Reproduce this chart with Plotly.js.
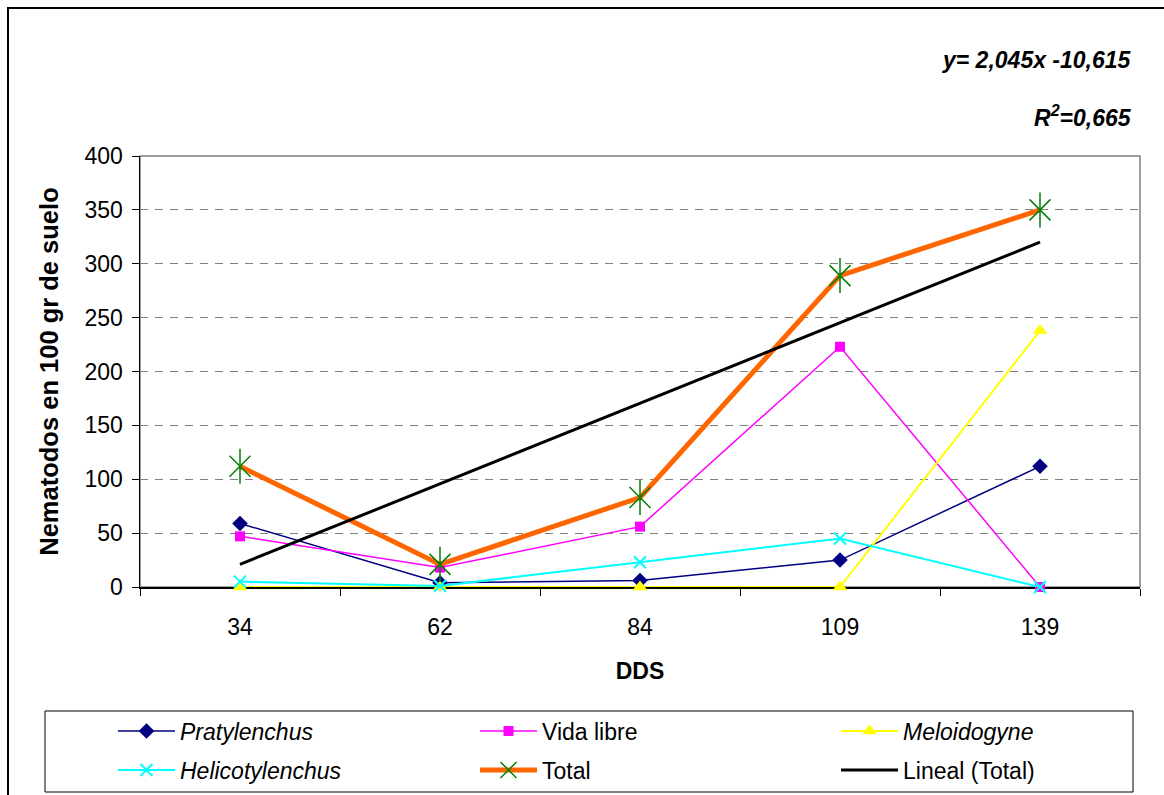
<!DOCTYPE html>
<html>
<head>
<meta charset="utf-8">
<script src="https://cdn.plot.ly/plotly-3.0.1.min.js"></script>
<style>
  html, body { margin: 0; padding: 0; background: #fff; overflow: hidden; }
  #frame { position: absolute; left: 7px; top: 7px; width: 1200px; height: 850px;
           border-top: 2px solid #000; border-left: 2px solid #000; }
  #chart { position: absolute; left: 0; top: 0; width: 1164px; height: 795px; }
</style>
</head>
<body>
<div id="frame"></div>
<div id="chart"></div>
<script>
const categories = ['34', '62', '84', '109', '139'];
const pratylenchus = [59, 4, 6, 25, 112];
const vidaLibre = [47, 18, 56, 223, 0];
const meloidogyne = [0, 0, 0, 0, 238];
const helicotylenchus = [5, 1, 23, 45, 0];
const total = [112, 21, 83, 289, 350];
const linealX = ['34', '139'];
const linealTotal = [21, 320];
const equationText = 'y= 2,045x -10,615';
const r2Text = 'R<sup>2</sup>=0,665';

const FONT = 'Liberation Sans, Arial, sans-serif';

const traces = [
  { name: '<i>Pratylenchus</i>', x: categories, y: pratylenchus, type: 'scatter', mode: 'lines+markers', cliponaxis: false,
    line: { color: '#000080', width: 1.5 }, marker: { symbol: 'diamond', size: 12, color: '#000080' }, legend: 'legend' },
  { name: 'Vida libre', x: categories, y: vidaLibre, type: 'scatter', mode: 'lines+markers', cliponaxis: false,
    line: { color: '#FF00FF', width: 1.5 }, marker: { symbol: 'square', size: 10, color: '#FF00FF' }, legend: 'legend2' },
  { name: '<i>Meloidogyne</i>', x: categories, y: meloidogyne, type: 'scatter', mode: 'lines+markers', cliponaxis: false,
    line: { color: '#FFFF00', width: 2 }, marker: { symbol: 'triangle-up', size: 13, color: '#FFFF00' }, legend: 'legend3' },
  { name: '<i>Helicotylenchus</i>', x: categories, y: helicotylenchus, type: 'scatter', mode: 'lines+markers', cliponaxis: false,
    line: { color: '#00FFFF', width: 2 }, marker: { symbol: 'x-thin', size: 12, color: '#00FFFF', line: { color: '#00FFFF', width: 2 } }, legend: 'legend4' },
  { name: 'Total', x: categories, y: total, type: 'scatter', mode: 'lines+markers', cliponaxis: false,
    line: { color: '#FF6600', width: 5 }, marker: { symbol: 'x-thin', size: 21, color: '#008000', line: { color: '#008000', width: 1.5 } }, legend: 'legend5' },
  { name: 'Total', x: categories, y: total, type: 'scatter', mode: 'markers', showlegend: false, hoverinfo: 'skip', cliponaxis: false,
    marker: { symbol: 'line-ns', size: 25, color: '#008000', line: { color: '#008000', width: 1.5 } } },
  { name: 'Lineal (Total)', x: linealX, y: linealTotal, type: 'scatter', mode: 'lines', cliponaxis: false,
    line: { color: '#000000', width: 3 }, legend: 'legend6' }
];

const L = 140, T = 156, W = 1000, H = 431;
function px(x) { return (x - L) / W; }
function py(y) { return (T + H - y) / H; }

function leg(xSym, yRow) {
  return {
    orientation: 'v', x: px(xSym), y: py(yRow), xanchor: 'left', yanchor: 'middle',
    itemwidth: 57, bgcolor: 'rgba(0,0,0,0)', borderwidth: 0,
    font: { family: FONT, size: 23 }, itemclick: false, itemdoubleclick: false
  };
}

const layout = {
  width: 1164, height: 795,
  margin: { l: L, r: 1164 - L - W, t: T, b: 795 - T - H, autoexpand: false },
  paper_bgcolor: 'rgba(0,0,0,0)', plot_bgcolor: '#fff',
  font: { family: FONT, size: 23, color: '#000' },
  showlegend: true,
  xaxis: {
    type: 'category', range: [-0.5, 4.5], tickson: 'boundaries', automargin: false, layer: 'below traces',
    ticks: 'outside', ticklen: 7, tickcolor: '#000', tickwidth: 1,
    showline: true, linecolor: '#000', linewidth: 1.5, showgrid: false, zeroline: false,
    tickfont: { family: FONT, size: 23 }, ticklabelstandoff: 19,
    title: { text: '<b>DDS</b>', font: { family: FONT, size: 23 }, standoff: 24 },
    fixedrange: true
  },
  yaxis: {
    range: [0, 400], dtick: 50, tick0: 0, automargin: false, layer: 'below traces',
    ticks: 'outside', ticklen: 7, tickcolor: '#000', tickwidth: 1,
    showline: true, linecolor: '#000', linewidth: 1.5, zeroline: false,
    showgrid: true, gridcolor: '#808080', gridwidth: 1, griddash: '8px,7px',
    tickfont: { family: FONT, size: 23 }, ticklabelstandoff: 4,
    title: { text: '<b>Nematodos en 100 gr de suelo</b>', font: { family: FONT, size: 25.5 }, standoff: 18 },
    fixedrange: true
  },
  legend: leg(113, 731),
  legend2: leg(475, 731),
  legend3: leg(836, 731),
  legend4: leg(113, 770),
  legend5: leg(475, 770),
  legend6: leg(836, 770),
  shapes: [
    { type: 'rect', xref: 'paper', yref: 'paper', x0: 0, x1: 1, y0: 0, y1: 1,
      line: { color: '#808080', width: 1.5 }, layer: 'below' },
    { type: 'rect', xref: 'paper', yref: 'paper', x0: px(45), x1: px(1133), y0: py(792), y1: py(711),
      line: { color: '#000', width: 1 }, fillcolor: 'rgba(0,0,0,0)' }
  ],
  annotations: [
    { text: '<b><i>' + equationText + '</i></b>', xref: 'paper', yref: 'paper', x: px(1134), y: py(60),
      xanchor: 'right', yanchor: 'middle', showarrow: false, font: { family: FONT, size: 23 } },
    { text: '<b><i>' + r2Text + '</i></b>', xref: 'paper', yref: 'paper', x: px(1134), y: py(116),
      xanchor: 'right', yanchor: 'middle', showarrow: false, font: { family: FONT, size: 23 } }
  ]
};

Plotly.newPlot('chart', traces, layout, { displayModeBar: false, staticPlot: true });
</script>
</body>
</html>
